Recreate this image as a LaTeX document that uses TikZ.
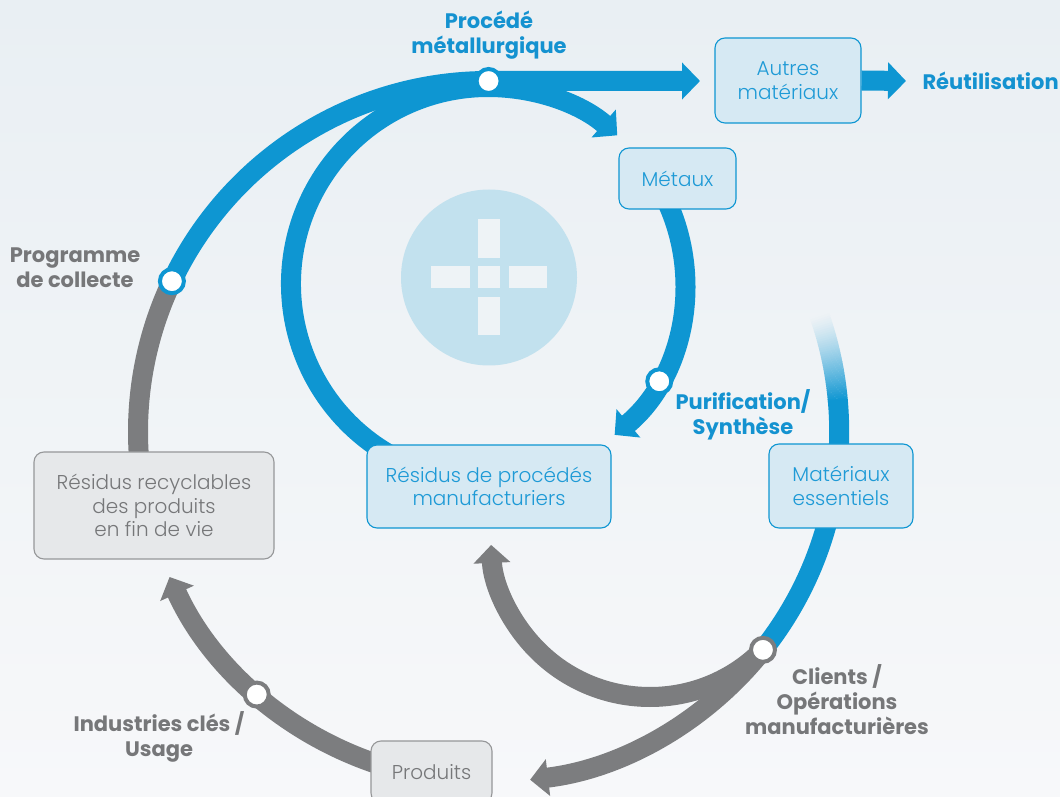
\documentclass[tikz,border=0pt]{standalone}
\usepackage{fontspec}
\setmainfont{Poppins}
\newfontfamily\lightfont{Poppins Light}
\usetikzlibrary{arrows.meta,calc}
\definecolor{bl}{RGB}{14,150,210}
\definecolor{gr}{RGB}{124,125,127}
\definecolor{bgtop}{RGB}{233,239,243}
\definecolor{bgbot}{RGB}{247,248,250}
\definecolor{bgmid}{RGB}{239,243,246}
\definecolor{boxbl}{RGB}{214,233,243}
\definecolor{boxgr}{RGB}{230,232,234}
\definecolor{gbord}{RGB}{150,151,153}
\definecolor{circ}{RGB}{194,225,238}
\definecolor{plusc}{RGB}{238,243,246}
\definecolor{lbltxt}{RGB}{20,146,208}
\definecolor{grtxt}{RGB}{118,119,121}
\definecolor{boxtxt}{RGB}{30,154,214}
\pgfdeclarelayer{back}
\pgfdeclarelayer{lines}
\pgfsetlayers{back,lines,main}
\begin{document}
\begin{tikzpicture}[x=1pt,y=1pt,
  flow/.style={line width=20pt},
  tipped/.style={-{Triangle[length=0pt 0.9 0,width=0pt 1.8 0]}},
  bbox/.style={draw=bl,line width=1.1pt,fill=boxbl,rounded corners=10pt,text=boxtxt,align=center,font=\lightfont\fontsize{20}{23.5}\selectfont,inner sep=0pt},
  gbox/.style={bbox,draw=gbord,fill=boxgr,text=grtxt},
  dotb/.style={circle,fill=white,draw=bl,line width=4pt,minimum size=24pt,inner sep=0pt},
  dotg/.style={dotb,draw=gr},
  lblb/.style={font=\bfseries\fontsize{21}{25}\selectfont,text=lbltxt,align=center},
  lblg/.style={lblb,text=grtxt}]
\useasboundingbox (0,0) rectangle (1060,796);
\begin{pgfonlayer}{back}
\shade[top color=bgtop,bottom color=bgbot] (0,0) rectangle (1060,796);
\fill[circ] (489,518.5) circle (88);
\fill[plusc] (477.8,507.5) rectangle (500.2,529.5);
\fill[plusc] (477.8,538) rectangle (500.2,576.5);
\fill[plusc] (477.8,499) rectangle (500.2,460.5);
\fill[plusc] (469.5,507.5) rectangle (431,529.5);
\fill[plusc] (508.5,507.5) rectangle (547,529.5);
\end{pgfonlayer}

\coordinate (O) at (488.6,364.4);
\coordinate (I) at (488,512);
\coordinate (S) at (650,258);

% boxes
\node[bbox,minimum width=146pt,minimum height=85pt] (autres) at (788,715.5) {Autres\\matériaux};
\node[bbox,minimum width=117pt,minimum height=61pt] (metaux) at (677.5,617.5) {Métaux};
\node[bbox,minimum width=244pt,minimum height=83pt] (rproc) at (489,309.5) {Résidus de procédés\\manufacturiers};
\node[bbox,minimum width=144pt,minimum height=84pt] (mess) at (841,310) {Matériaux\\essentiels};
\node[gbox,minimum width=240pt,minimum height=107pt] (rrec) at (154,290.5) {Résidus recyclables\\des produits\\en fin de vie};
\node[gbox,minimum width=121pt,minimum height=62pt] (prod) at (431.5,24) {Produits};

\coordinate (tipA) at (700,715);
\coordinate (tipR) at (906,715);

\begin{pgfonlayer}{lines}
% gray
\draw[flow,gr] (O) ++(154.6:350.6) arc[start angle=154.6,end angle=192,radius=350.6];
\draw[flow,gr,tipped] (O) ++(255:350.6) arc[start angle=255,end angle=204.5,radius=350.6];
\draw[flow,gr,tipped] (O) ++(-38.5:350.6) arc[start angle=-38.5,end angle=-83.2,radius=350.6];
\draw[flow,gr,tipped] (S) ++(-45:159) arc[start angle=-45,end angle=-177.5,radius=159];
% blue fading segment
\foreach \i in {1,...,40}{
  \pgfmathsetmacro\a{19.5-(\i-1)*0.36}
  \pgfmathsetmacro\b{\a-0.42}
  \pgfmathsetmacro\p{pow((\i-0.5)/40,1.3)*100}
  \draw[flow,draw=bl!\p!bgmid] (O) ++(\a:350.6) arc[start angle=\a,end angle=\b,radius=350.6];
}
\draw[flow,bl] (O) ++(5.2:350.6) arc[start angle=5.2,end angle=-38.5,radius=350.6];
\draw[flow,bl,tipped] (O) ++(154.6:350.6) arc[start angle=154.6,end angle=90,radius=350.6] -- (tipA);
\draw[flow,bl,tipped] (I) ++(242:197) arc[start angle=242,end angle=49,radius=197];
\draw[flow,bl,tipped] (I) ++(25:197) arc[start angle=25,end angle=-50,radius=197];
\draw[flow,bl,tipped] (autres.east) -- (tipR);
\end{pgfonlayer}

% dots
\path (O) ++(90:350.6) node[dotb] (dproc) {};
\path (O) ++(154.6:350.6) node[dotb] (dprog) {};
\path (I) ++(-29.6:197) node[dotb] (dpur) {};
\path (O) ++(-38.5:350.6) node[dotg] (dcli) {};
\path (O) ++(228.6:350.6) node[dotg] (dind) {};

% labels
\node[lblb] (lproc) at (489,761) {Procédé\\métallurgique};
\node[lblb,anchor=west] (lreut) at (919,715) {Réutilisation};
\node[lblg] (lprog) at (75,528) {Programme\\de collecte};
\node[lblb] (lpur) at (743,381) {Purification/\\Synthèse};
\node[lblg] (lcli) at (837,96) {Clients /\\Opérations\\manufacturières};
\node[lblg] (lind) at (159,59) {Industries clés /\\Usage};
\end{tikzpicture}
\end{document}
